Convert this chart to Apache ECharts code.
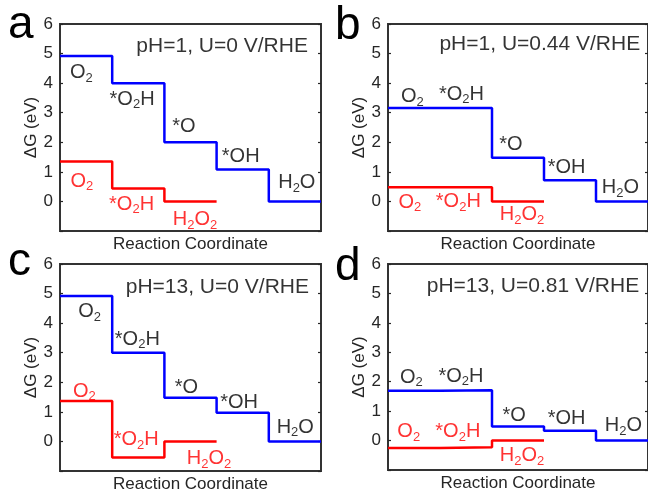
<!DOCTYPE html>
<html>
<head>
<meta charset="utf-8">
<script src="https://cdn.jsdelivr.net/npm/echarts@6/dist/echarts.min.js"></script>
<style>
html,body{margin:0;padding:0;background:#fff;}
#chart{width:648px;height:494px;}
</style>
</head>
<body>
<div id="chart"></div>
<script>
// ---- data ----
const steps = [0, 1, 2, 3, 4, 5];            // reaction coordinate positions
const yTicks = [0, 1, 2, 3, 4, 5, 6];
const panelLetters = ['a', 'b', 'c', 'd'];
const conditions = ['pH=1, U=0 V/RHE', 'pH=1, U=0.44 V/RHE', 'pH=13, U=0 V/RHE', 'pH=13, U=0.81 V/RHE'];

// 4e- pathway: O2, *O2H, *O, *OH, H2O  (eV)
const blueA = [4.92, 4.00, 2.00, 1.08, 0];
const blueB = [3.16, 3.16, 1.48, 0.72, 0];
const blueC = [4.92, 3.00, 1.48, 0.97, 0];
const blueD = [1.69, 1.71, 0.48, 0.33, 0];
// 2e- pathway: O2, *O2H, H2O2 (eV)
const redA = [1.35, 0.44, 0];
const redB = [0.48, 0.48, 0];
const redC = [1.37, -0.54, 0];
const redD = [-0.25, -0.23, 0];

const blueNames = ['{n|O}{s|2}', '{n|*O}{s|2}{n|H}', '{n|*O}', '{n|*OH}', '{n|H}{s|2}{n|O}'];
const redNames = ['{n|O}{s|2}', '{n|*O}{s|2}{n|H}', '{n|H}{s|2}{n|O}{s|2}'];

// annotation anchors (data units: [x, y]) for species labels
const blueLabelPosA = [[0.19, 4.36], [0.95, 3.45], [2.15, 2.53], [3.10, 1.53], [4.18, 0.64]];
const redLabelPosA  = [[0.20, 0.69], [0.94, -0.10], [2.16, -0.61]];
const blueLabelPosB = [[0.25, 3.55], [0.98, 3.63], [2.14, 1.94], [3.07, 1.15], [4.11, 0.47]];
const redLabelPosB  = [[0.20, -0.02], [0.92, 0.00], [2.15, -0.45]];
const blueLabelPosC = [[0.35, 4.38], [1.05, 3.45], [2.20, 1.84], [3.07, 1.33], [4.15, 0.48]];
const redLabelPosC  = [[0.25, 1.70], [1.03, 0.06], [2.43, -0.59]];
const blueLabelPosD = [[0.23, 2.16], [0.97, 2.18], [2.20, 0.85], [3.07, 0.74], [4.17, 0.51]];
const redLabelPosD  = [[0.18, 0.31], [0.91, 0.31], [2.15, -0.51]];
const conditionPos = [[4.75, 5.24], [4.85, 5.30], [4.77, 5.23], [4.83, 5.23]];

const panels = [
  {blue: blueA, red: redA, bpos: blueLabelPosA, rpos: redLabelPosA},
  {blue: blueB, red: redB, bpos: blueLabelPosB, rpos: redLabelPosB},
  {blue: blueC, red: redC, bpos: blueLabelPosC, rpos: redLabelPosC},
  {blue: blueD, red: redD, bpos: blueLabelPosD, rpos: redLabelPosD}
];

// ---- layout / styles ----
const FONT = 'Liberation Sans, Arial, Helvetica, sans-serif';
const AX = '#262626';
const gridPos = [
  {left: 60, top: 24, width: 261, height: 207},
  {left: 388, top: 24, width: 261, height: 207},
  {left: 60, top: 264, width: 261, height: 207},
  {left: 388, top: 264, width: 261, height: 206}
];
const letterPos = [
  {left: 8, top: 2}, {left: 335, top: 3}, {left: 8, top: 239}, {left: 335, top: 244}
];
const rich = {
  n: {fontSize: 20, fontFamily: FONT, lineHeight: 24},
  s: {fontSize: 13, fontFamily: FONT, lineHeight: 13, verticalAlign: 'bottom'}
};

function stepLine(levels) {
  const pts = levels.map((v, i) => [steps[i], v]);
  pts.push([steps[levels.length], levels[levels.length - 1]]);
  return pts;
}

const option = {
  animation: false,
  backgroundColor: '#fff',
  title: panelLetters.map((t, i) => ({
    text: t, left: letterPos[i].left, top: letterPos[i].top, padding: 0,
    textStyle: {fontSize: 46, fontWeight: 'normal', fontFamily: FONT, color: '#000'}
  })),
  grid: gridPos.map(g => Object.assign({show: true, borderColor: '#333', borderWidth: 2, backgroundColor: 'transparent', containLabel: false}, g)),
  xAxis: gridPos.map((g, i) => ({
    type: 'value', gridIndex: i, min: 0, max: 5,
    axisLine: {show: false}, axisTick: {show: false}, axisLabel: {show: false}, splitLine: {show: false},
    name: 'Reaction Coordinate', nameLocation: 'middle', nameGap: 5,
    nameTextStyle: {fontSize: 17, fontFamily: FONT, color: AX, verticalAlign: 'top'}
  })),
  yAxis: [].concat(...gridPos.map((g, i) => [
    {
      type: 'value', gridIndex: i, min: -1, max: 6, interval: 1, position: 'left',
      axisLine: {show: false},
      axisTick: {show: true, inside: true, length: 3, lineStyle: {color: AX, width: 1.2}},
      axisLabel: {fontSize: 17, fontFamily: FONT, color: AX, margin: 7,
        formatter: v => (yTicks.indexOf(v) >= 0 ? String(v) : '')},
      splitLine: {show: false},
      name: 'ΔG (eV)', nameLocation: 'middle', nameGap: 18, nameRotate: 90,
      nameTextStyle: {fontSize: 17, fontFamily: FONT, color: AX}
    },
    {
      type: 'value', gridIndex: i, min: -1, max: 6, interval: 1, position: 'right',
      axisLine: {show: false},
      axisTick: {show: true, inside: true, length: 3, lineStyle: {color: AX, width: 1.2}},
      axisLabel: {show: false}, splitLine: {show: false}
    }
  ])),
  series: [].concat(...panels.map((p, i) => [
    {
      type: 'line', xAxisIndex: i, yAxisIndex: 2 * i, step: 'end', symbol: 'none',
      data: stepLine(p.blue), lineStyle: {color: '#0000ff', width: 2.5}, z: 3
    },
    {
      type: 'line', xAxisIndex: i, yAxisIndex: 2 * i, step: 'end', symbol: 'none',
      data: stepLine(p.red), lineStyle: {color: '#ff0000', width: 2.5}, z: 3
    },
    {
      type: 'scatter', xAxisIndex: i, yAxisIndex: 2 * i, symbolSize: 0, silent: true,
      data: p.bpos.map((q, k) => ({value: q, name: blueNames[k]})),
      label: {show: true, position: 'right', distance: 0, color: '#000', formatter: d => d.name, rich: rich}
    },
    {
      type: 'scatter', xAxisIndex: i, yAxisIndex: 2 * i, symbolSize: 0, silent: true,
      data: p.rpos.map((q, k) => ({value: q, name: redNames[k]})),
      label: {show: true, position: 'right', distance: 0, color: '#ff0000', formatter: d => d.name, rich: rich}
    },
    {
      type: 'scatter', xAxisIndex: i, yAxisIndex: 2 * i, symbolSize: 0, silent: true,
      data: [{value: conditionPos[i], name: conditions[i]}],
      label: {show: true, position: 'left', distance: 0, color: '#000', fontSize: 21, fontFamily: FONT, formatter: d => d.name}
    }
  ]))
};

const chart = echarts.init(document.getElementById('chart'), null, {renderer: 'canvas'});
chart.setOption(option);
</script>
</body>
</html>
